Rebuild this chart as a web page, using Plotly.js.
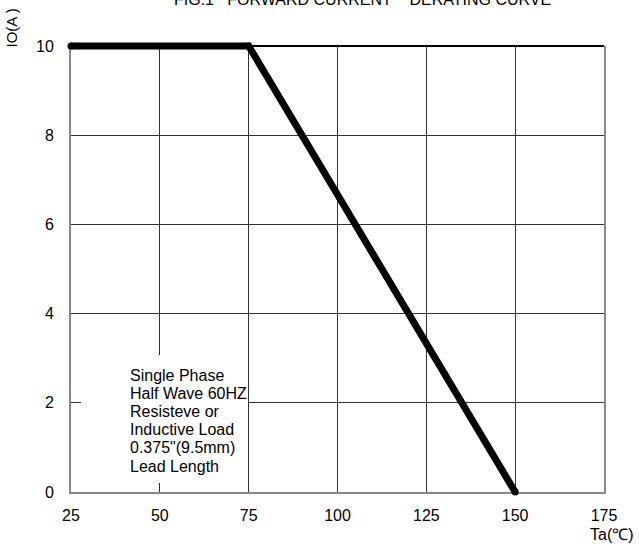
<!DOCTYPE html>
<html>
<head>
<meta charset="utf-8">
<script src="https://cdn.plot.ly/plotly-3.0.1.min.js"></script>
<style>html,body{margin:0;padding:0;background:#fff;}#chart{width:639px;height:547px;}</style>
</head>
<body>
<div id="chart"></div>
<script>
// Data
var temperature = [25, 75, 150];      // Ta (°C)
var current = [10, 10, 0];            // IO (A)
var xTicks = [25, 50, 75, 100, 125, 150, 175];
var yTicks = [0, 2, 4, 6, 8, 10];
var titleText = "FIG.1\u00a0\u00a0\u00a0FORWARD CURRENT\u00a0\u00a0\u00a0\u00a0DERATING CURVE";
var yTitleText = "IO(A )";
var xTitleText = "Ta(\u2103)";
var noteLines = ["Single Phase", "Half Wave 60HZ", "Resisteve or", "Inductive Load", "0.375\"(9.5mm)", "Lead Length"];

var FONT = "Liberation Sans, Arial, sans-serif";

// Geometry: main grid box spans px x 71..604, y 46..492 in a 639x547 page.
var W = 639, H = 547;
var M = {l: 55, r: 25, t: 30, b: 45};
var PW = W - M.l - M.r, PH = H - M.t - M.b;
var box = {x0: 71, x1: 604, y0: 46, y1: 492};
var xr = [25, 175], yr = [0, 10];
var xDom = [(box.x0 - M.l) / PW, (box.x1 - M.l) / PW];
var yDom = [(H - M.b - box.y1) / PH, (H - M.b - box.y0) / PH];
// Second (invisible) axis pair covering the full plot area with the same scale,
// so the thick curve is not clipped at the grid edges.
var kx = (box.x1 - box.x0) / (xr[1] - xr[0]);
var ky = (box.y1 - box.y0) / (yr[1] - yr[0]);
var xr2 = [xr[0] - (box.x0 - M.l) / kx, xr[1] + (W - M.r - box.x1) / kx];
var yr2 = [yr[0] - (H - M.b - box.y1) / ky, yr[1] + (box.y0 - M.t) / ky];

var trace = {
  x: temperature,
  y: current,
  xaxis: "x2", yaxis: "y2",
  type: "scatter",
  mode: "lines+markers",
  line: {color: "#000", width: 7},
  marker: {color: "#000", size: 7},
  cliponaxis: false,
  hoverinfo: "skip",
  showlegend: false
};

var annotations = [
  {text: titleText, xref: "paper", yref: "paper", x: (363 - M.l) / PW, y: (H - M.b + 0.7) / PH,
   xanchor: "center", yanchor: "middle",
   showarrow: false, font: {family: FONT, size: 16, color: "#000"}},
  {text: yTitleText, xref: "paper", yref: "paper", x: (11 - M.l) / PW, y: (H - M.b - 28.5) / PH,
   xanchor: "center", yanchor: "middle",
   textangle: -90, showarrow: false, font: {family: FONT, size: 15, color: "#000"}},
  {text: xTitleText, xref: "paper", yref: "paper", x: (612 - M.l) / PW, y: (H - M.b - 534) / PH,
   xanchor: "center", yanchor: "middle",
   showarrow: false, font: {family: FONT, size: 16, color: "#000"}}
];
noteLines.forEach(function (t, i) {
  annotations.push({text: t, xref: "x", yref: "y", x: 41.0, y: 2.623 - i * 0.408,
    xanchor: "left", yanchor: "middle", showarrow: false,
    font: {family: FONT, size: 16, color: "#000"}});
});

var layout = {
  width: W, height: H,
  margin: {l: M.l, r: M.r, t: M.t, b: M.b, pad: 0},
  paper_bgcolor: "#fff", plot_bgcolor: "rgba(0,0,0,0)",
  font: {family: FONT, size: 16, color: "#000"},
  xaxis: {
    domain: xDom, anchor: "y",
    range: xr, tickvals: xTicks, ticktext: xTicks.map(String),
    showgrid: true, gridcolor: "#333", gridwidth: 1.3,
    showline: true, linecolor: "#888", linewidth: 2, mirror: false,
    zeroline: false, ticks: "", ticklabelstandoff: 8,
    tickfont: {family: FONT, size: 16, color: "#000"}, fixedrange: true
  },
  yaxis: {
    domain: yDom, anchor: "x",
    range: yr, tickvals: yTicks, ticktext: yTicks.map(String),
    showgrid: true, gridcolor: "#333", gridwidth: 1.3,
    showline: true, linecolor: "#888", linewidth: 2, mirror: true,
    zeroline: false, ticks: "", ticklabelstandoff: 12,
    tickfont: {family: FONT, size: 16, color: "#000"}, fixedrange: true
  },
  xaxis2: {
    domain: [0, 1], anchor: "y2", range: xr2,
    visible: false, showgrid: false, zeroline: false, fixedrange: true
  },
  yaxis2: {
    domain: [0, 1], anchor: "x2", range: yr2,
    visible: false, showgrid: false, zeroline: false, fixedrange: true
  },
  shapes: [
    {type: "rect", xref: "x", yref: "y", x0: 27.8, x1: 74.8, y0: 0.2, y1: 3.07,
     fillcolor: "#fff", line: {width: 0}, layer: "between"},
    {type: "line", xref: "x domain", yref: "y domain", x0: 0, x1: 1, y0: 1, y1: 1,
     line: {color: "#000", width: 2}, layer: "below"}
  ],
  annotations: annotations
};

Plotly.newPlot("chart", [trace], layout, {staticPlot: true, displayModeBar: false});
</script>
</body>
</html>
